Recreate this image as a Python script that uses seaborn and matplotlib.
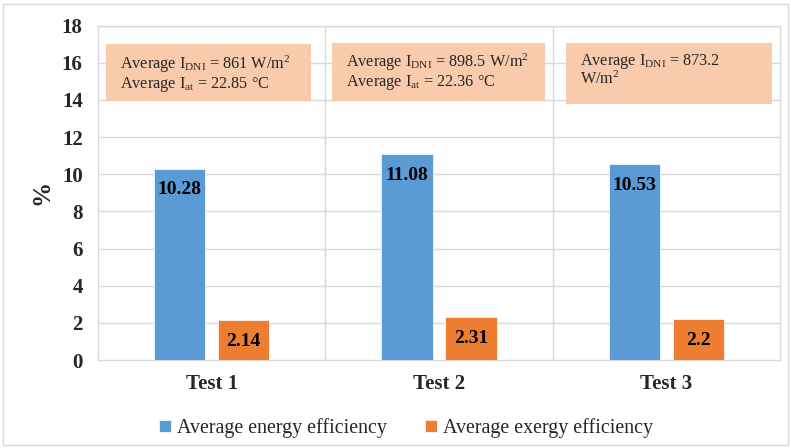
import matplotlib
matplotlib.use("Agg")
import matplotlib.pyplot as plt
from matplotlib.patches import Rectangle
import seaborn as sns
import pandas as pd

# Chart data
tests = ["Test 1", "Test 2", "Test 3"]
energy_eff = [10.28, 11.08, 10.53]
exergy_eff = [2.14, 2.31, 2.2]
series_names = ["Average energy efficiency", "Average exergy efficiency"]
box_texts = [
    "Average I$_{\\mathrm{DNI}}$ = 861 W/m$^{\\mathrm{2}}$\nAverage I$_{\\mathrm{at}}$ = 22.85 \u00b0C",
    "Average I$_{\\mathrm{DNI}}$ = 898.5 W/m$^{\\mathrm{2}}$\nAverage I$_{\\mathrm{at}}$ = 22.36 \u00b0C",
    "Average I$_{\\mathrm{DNI}}$ = 873.2\nW/m$^{\\mathrm{2}}$",
]
y_ticks = [0, 2, 4, 6, 8, 10, 12, 14, 16, 18]

df = pd.DataFrame({
    "test": tests * 2,
    "value": energy_eff + exergy_eff,
    "series": [series_names[0]] * 3 + [series_names[1]] * 3,
})

sns.set_theme(style="white")
plt.rcParams["font.family"] = ["Liberation Serif", "DejaVu Serif"]
plt.rcParams["mathtext.fontset"] = "custom"
plt.rcParams["mathtext.rm"] = "Liberation Serif"
plt.rcParams["mathtext.it"] = "Liberation Serif:italic"
plt.rcParams["mathtext.bf"] = "Liberation Serif:bold"

fig = plt.figure(figsize=(7.91, 4.48), dpi=100)
ax = fig.add_axes([0.1239, 0.1964, 0.8622, 0.7466])

palette = {series_names[0]: "#5B9BD5", series_names[1]: "#ED7D31"}
sns.barplot(data=df, x="test", y="value", hue="series", palette=palette,
            width=0.563, gap=0.2, ax=ax, edgecolor="white", linewidth=0.5,
            saturation=1, legend=True, zorder=3)

ax.set_xlim(-0.5, 2.5)
ax.set_ylim(0, 18)
ax.set_yticks(y_ticks)
ax.set_yticklabels([str(t) for t in y_ticks], fontsize=15, fontweight="bold")
ax.set_xticklabels(tests, fontsize=15, fontweight="bold")
ax.tick_params(axis="x", length=0, pad=10)
ax.tick_params(axis="y", length=0, pad=11)
ax.set_xlabel("")
ax.set_ylabel("%", fontsize=18, fontweight="bold", labelpad=6)

grid_c = "#d9d9d9"
for y in y_ticks[1:]:
    ax.axhline(y, color=grid_c, lw=1, zorder=0)
for x in [0.5, 1.5]:
    ax.axvline(x, color=grid_c, lw=1, zorder=0)
for s in ax.spines.values():
    s.set_color(grid_c)
    s.set_linewidth(1)

# value labels inside the top of each bar
for cont in ax.containers:
    for bar in cont:
        h = bar.get_height()
        ax.annotate(f"{h:g}", (bar.get_x() + bar.get_width() / 2, h),
                    xytext=(0, -9), textcoords="offset points",
                    ha="center", va="top", fontsize=14, fontweight="bold",
                    color="black", zorder=5)

# condition boxes
box_x = [(-0.465, 0.437), (0.529, 1.466), (1.559, 2.465)]
box_y = [(13.95, 16.98), (13.95, 17.08), (13.8, 17.08)]
for (x0, x1), (y0, y1), txt in zip(box_x, box_y, box_texts):
    ax.add_patch(Rectangle((x0, y0), x1 - x0, y1 - y0, facecolor="#F8CBAD",
                           edgecolor="none", zorder=4))
    ax.text(x0 + 0.063, y1 - 0.5, txt, ha="left", va="top", fontsize=11.7,
            linespacing=1.0, zorder=5)

ax.legend(loc="upper center", bbox_to_anchor=(0.452, -0.12), ncol=2,
          frameon=False, fontsize=14.4, handlelength=0.6, handleheight=0.6,
          handletextpad=0.3, columnspacing=1.9)

# outer frame of the chart
fig.patches.append(Rectangle((0.004, 0.006), 0.992, 0.984, transform=fig.transFigure,
                             fill=False, edgecolor=grid_c, lw=1))

fig.savefig("out.png", dpi=100)
